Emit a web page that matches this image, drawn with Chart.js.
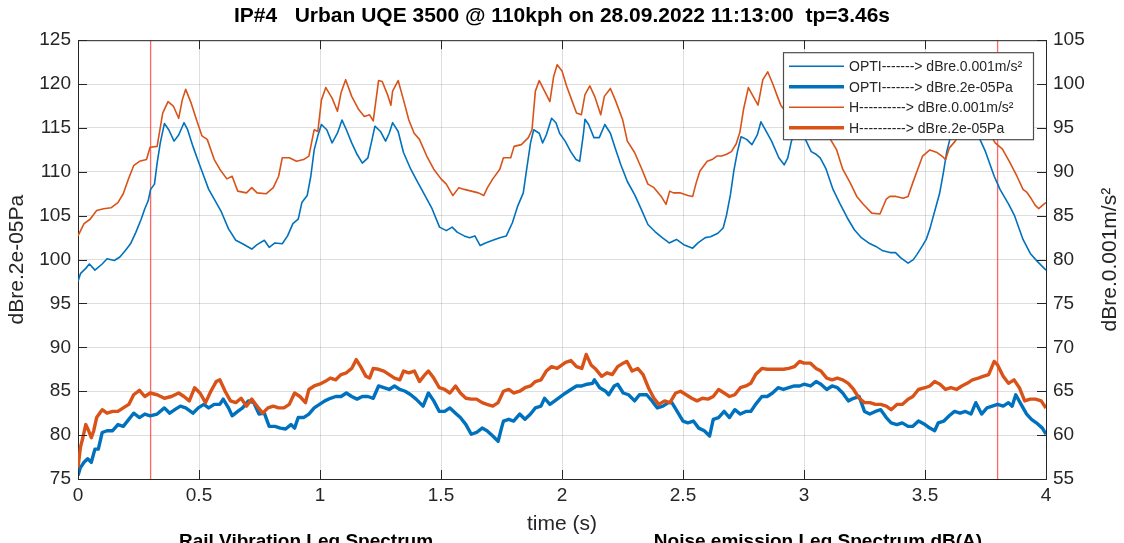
<!DOCTYPE html>
<html>
<head>
<meta charset="utf-8">
<script src="https://cdn.jsdelivr.net/npm/chart.js@4.4.1/dist/chart.umd.min.js"></script>
<style>
  html, body { margin: 0; padding: 0; background: #fff; }
  #wrap { width: 1124px; height: 543px; }
</style>
</head>
<body>
<div id="wrap"><canvas id="leqChart" width="1124" height="543"></canvas></div>
<script>
// tick labels
const timeTicks = [0, 0.5, 1, 1.5, 2, 2.5, 3, 3.5, 4];
const paTicks = [75, 80, 85, 90, 95, 100, 105, 110, 115, 120, 125];
const accTicks = [55, 60, 65, 70, 75, 80, 85, 90, 95, 100, 105];

// red cursor lines (s)
const markerTimes = [0.3, 3.8];

const chartTitle = "IP#4   Urban UQE 3500 @ 110kph on 28.09.2022 11:13:00  tp=3.46s";
const subTitles = ["Rail Vibration Leq Spectrum", "Noise emission Leq Spectrum dB(A)"];

// [time s, level]
// OPTI vibration, dBre.0.001m/s² (right axis)
const optiVib = [[0,77.5],[0.01,78.4],[0.032,79.0],[0.047,79.5],[0.07,78.8],[0.1,79.5],[0.12,80.1],[0.15,79.9],[0.173,80.3],[0.195,81.0],[0.217,81.8],[0.239,83.1],[0.261,84.6],[0.276,85.8],[0.29,86.7],[0.3,88.0],[0.316,88.6],[0.327,91.0],[0.34,93.3],[0.357,95.5],[0.375,94.8],[0.397,93.5],[0.416,94.2],[0.438,95.6],[0.453,94.8],[0.475,92.9],[0.497,91.2],[0.52,89.5],[0.54,88.0],[0.563,86.9],[0.593,85.4],[0.622,83.5],[0.652,82.2],[0.68,81.8],[0.718,81.2],[0.74,81.7],[0.77,82.2],[0.79,81.4],[0.814,81.9],[0.844,81.8],[0.866,82.7],[0.888,84.1],[0.91,84.6],[0.925,86.5],[0.947,87.3],[0.962,89.5],[0.976,92.5],[0.991,94.1],[1.006,95.4],[1.028,94.8],[1.05,93.3],[1.072,94.4],[1.091,95.9],[1.109,94.8],[1.131,93.3],[1.153,92.0],[1.175,91.0],[1.198,91.6],[1.212,93.3],[1.227,95.2],[1.25,94.6],[1.271,93.5],[1.286,94.4],[1.3,95.6],[1.323,94.6],[1.345,92.2],[1.375,90.3],[1.404,88.8],[1.434,87.3],[1.463,85.8],[1.494,83.7],[1.522,83.3],[1.546,83.7],[1.568,83.1],[1.596,82.7],[1.618,82.5],[1.64,82.7],[1.662,81.6],[1.684,81.9],[1.714,82.2],[1.743,82.5],[1.77,82.7],[1.795,84.2],[1.817,86.1],[1.84,87.6],[1.854,90.3],[1.87,93.3],[1.883,94.8],[1.906,94.4],[1.92,93.3],[1.935,94.2],[1.957,96.1],[1.975,95.6],[1.99,94.4],[2.013,93.5],[2.036,92.3],[2.058,91.4],[2.073,91.2],[2.088,94.2],[2.095,96.0],[2.11,95.4],[2.132,93.9],[2.154,93.9],[2.177,95.4],[2.2,94.4],[2.22,92.7],[2.243,90.8],[2.27,88.9],[2.3,87.4],[2.325,85.9],[2.355,84.0],[2.384,83.2],[2.414,82.5],[2.443,81.9],[2.473,82.3],[2.503,81.7],[2.54,81.3],[2.562,81.9],[2.592,82.5],[2.614,82.6],[2.644,83.0],[2.666,83.6],[2.68,85.1],[2.696,87.4],[2.71,90.1],[2.725,92.3],[2.74,94.0],[2.763,93.7],[2.785,93.1],[2.807,94.2],[2.822,95.7],[2.844,94.6],[2.866,93.5],[2.896,91.6],[2.918,90.8],[2.933,91.6],[2.948,93.5],[2.97,95.0],[2.99,94.6],[3.03,92.3],[3.05,92.0],[3.067,91.6],[3.09,90.4],[3.12,88.0],[3.148,86.4],[3.178,84.8],[3.208,83.4],[3.237,82.5],[3.267,81.9],[3.297,81.5],[3.326,81.0],[3.356,80.8],[3.378,80.8],[3.4,80.2],[3.43,79.6],[3.452,80.0],[3.467,80.6],[3.49,81.6],[3.505,82.3],[3.52,83.5],[3.54,85.5],[3.56,87.5],[3.576,89.9],[3.59,92.3],[3.61,94.5],[3.635,96.0],[3.66,96.3],[3.685,95.8],[3.71,94.8],[3.727,93.7],[3.75,92.3],[3.786,89.5],[3.81,88.0],[3.846,86.3],[3.87,85.0],[3.905,82.3],[3.935,80.7],[3.964,79.8],[4.0,78.8]];

// OPTI noise, dBre.2e-05Pa (left axis)
const optiNoise = [[0,75.4],[0.01,76.3],[0.025,76.9],[0.04,77.3],[0.055,76.9],[0.07,78.4],[0.084,78.4],[0.1,80.3],[0.12,80.5],[0.143,80.5],[0.165,81.2],[0.187,81.0],[0.21,81.8],[0.23,82.5],[0.254,82.0],[0.276,82.4],[0.298,82.2],[0.327,82.4],[0.357,83.1],[0.379,82.5],[0.4,82.9],[0.423,83.3],[0.445,83.1],[0.475,82.5],[0.497,83.1],[0.52,83.5],[0.54,83.1],[0.563,83.5],[0.586,83.5],[0.6,84.1],[0.622,83.1],[0.637,82.2],[0.66,82.7],[0.68,83.1],[0.704,83.9],[0.726,83.7],[0.748,82.4],[0.77,82.5],[0.79,81.0],[0.814,81.0],[0.836,80.8],[0.858,80.7],[0.88,81.2],[0.895,80.8],[0.91,82.0],[0.932,82.0],[0.954,82.4],[0.976,83.1],[0.998,83.5],[1.02,83.9],[1.043,84.2],[1.065,84.4],[1.087,84.4],[1.109,84.8],[1.131,84.4],[1.153,84.1],[1.175,84.4],[1.198,84.4],[1.22,84.2],[1.242,85.6],[1.264,85.4],[1.286,85.2],[1.308,85.6],[1.33,85.2],[1.352,85.0],[1.375,84.6],[1.397,84.1],[1.426,83.3],[1.448,84.8],[1.47,83.9],[1.493,82.7],[1.515,82.7],[1.537,83.1],[1.56,82.5],[1.58,82.0],[1.603,81.2],[1.625,80.1],[1.647,80.3],[1.67,80.8],[1.69,80.5],[1.714,79.9],[1.736,79.3],[1.75,80.8],[1.758,81.6],[1.78,81.8],[1.8,81.6],[1.825,82.4],[1.847,81.8],[1.87,82.4],[1.89,83.1],[1.913,83.3],[1.928,84.2],[1.95,83.5],[1.98,84.1],[2.015,84.8],[2.037,85.2],[2.06,85.6],[2.082,85.6],[2.104,85.8],[2.126,85.9],[2.134,86.3],[2.156,85.4],[2.18,85.0],[2.193,84.6],[2.216,85.6],[2.23,85.8],[2.253,84.8],[2.275,84.6],[2.3,83.9],[2.32,84.6],[2.35,84.6],[2.372,83.9],[2.394,83.1],[2.417,83.3],[2.44,83.7],[2.454,83.7],[2.476,82.7],[2.5,81.6],[2.52,81.4],[2.543,81.6],[2.565,80.8],[2.588,80.5],[2.61,79.9],[2.625,81.8],[2.647,82.0],[2.67,82.7],[2.692,82.0],[2.714,82.9],[2.737,82.4],[2.76,82.7],[2.78,82.7],[2.8,83.5],[2.826,84.4],[2.848,84.4],[2.87,84.8],[2.893,85.4],[2.915,85.2],[2.937,85.4],[2.96,85.6],[2.982,85.6],[3.0,85.8],[3.027,85.6],[3.05,86.1],[3.07,85.8],[3.094,85.2],[3.116,85.6],[3.138,85.4],[3.16,84.8],[3.183,83.9],[3.205,84.2],[3.228,84.4],[3.25,82.7],[3.272,82.4],[3.295,82.7],[3.317,82.9],[3.34,82.0],[3.36,81.4],[3.384,81.2],[3.406,81.4],[3.43,81.0],[3.45,81.0],[3.473,81.6],[3.5,81.2],[3.52,80.8],[3.54,80.5],[3.555,81.4],[3.578,81.6],[3.6,82.2],[3.622,82.7],[3.645,82.5],[3.667,82.7],[3.69,82.4],[3.71,83.7],[3.734,82.4],[3.756,83.1],[3.778,83.3],[3.8,83.5],[3.823,83.3],[3.845,83.7],[3.86,83.3],[3.875,84.6],[3.897,83.5],[3.92,82.4],[3.94,81.8],[3.96,81.4],[3.985,80.8],[4.0,80.1]];

// H vibration, dBre.0.001m/s² (right axis)
const hVib = [[0,82.7],[0.025,84.1],[0.05,84.6],[0.077,85.6],[0.106,85.8],[0.136,85.9],[0.165,86.5],[0.187,87.5],[0.21,89.3],[0.23,90.7],[0.254,91.2],[0.283,91.4],[0.298,92.8],[0.327,92.9],[0.35,96.7],[0.372,98.0],[0.394,97.5],[0.416,96.1],[0.431,98.2],[0.445,99.4],[0.468,97.8],[0.49,95.9],[0.512,94.1],[0.534,93.7],[0.563,91.4],[0.586,90.3],[0.615,89.2],[0.637,89.5],[0.66,87.8],[0.696,87.6],[0.718,88.2],[0.74,87.6],[0.777,87.5],[0.807,88.2],[0.829,89.5],[0.844,91.6],[0.873,91.6],[0.903,91.2],[0.932,91.4],[0.954,91.8],[0.976,94.8],[0.991,94.6],[1.006,98.2],[1.024,99.6],[1.05,98.4],[1.072,96.9],[1.087,99.0],[1.106,100.5],[1.131,98.6],[1.16,97.1],[1.183,96.3],[1.205,96.5],[1.22,95.8],[1.242,100.4],[1.257,100.3],[1.279,98.8],[1.293,97.6],[1.3,99.2],[1.323,100.4],[1.345,98.2],[1.367,95.9],[1.389,94.4],[1.411,93.7],[1.441,91.8],[1.47,90.3],[1.5,89.2],[1.522,88.6],[1.549,87.3],[1.574,88.2],[1.596,88.0],[1.625,87.8],[1.655,87.6],[1.677,87.3],[1.692,88.2],[1.714,89.2],[1.743,90.3],[1.758,91.6],[1.788,91.6],[1.802,92.9],[1.832,93.1],[1.861,93.9],[1.876,94.8],[1.89,99.2],[1.906,100.4],[1.928,99.2],[1.95,98.0],[1.965,100.8],[1.98,102.2],[2.0,101.5],[2.02,99.7],[2.04,98.2],[2.06,96.7],[2.08,96.5],[2.095,98.8],[2.115,99.8],[2.135,98.6],[2.16,96.5],[2.175,98.6],[2.2,99.5],[2.22,98.2],[2.25,96.0],[2.27,93.5],[2.3,92.2],[2.33,90.3],[2.355,88.6],[2.38,88.2],[2.41,87.2],[2.43,86.3],[2.445,87.8],[2.46,87.6],[2.49,87.6],[2.52,87.3],[2.54,87.2],[2.555,88.8],[2.57,90.1],[2.6,91.2],[2.62,91.4],[2.64,91.8],[2.66,91.8],[2.68,92.0],[2.7,92.3],[2.72,93.2],[2.735,94.5],[2.75,97.1],[2.77,99.6],[2.79,98.6],[2.81,97.6],[2.83,100.5],[2.85,101.4],[2.87,100.1],[2.89,98.6],[2.904,97.6],[2.926,96.8],[2.95,96.5],[2.975,96.2],[3.0,96.0],[3.03,95.5],[3.06,94.8],[3.09,94.0],[3.107,93.8],[3.135,92.5],[3.16,90.3],[3.19,88.8],[3.218,87.2],[3.245,86.3],[3.28,85.3],[3.314,85.2],[3.34,86.9],[3.355,87.2],[3.38,87.2],[3.41,87.0],[3.43,87.2],[3.45,88.8],[3.47,90.3],[3.49,91.8],[3.52,92.5],[3.55,92.2],[3.57,91.8],[3.585,91.4],[3.6,92.7],[3.625,93.5],[3.65,94.8],[3.675,96.0],[3.7,96.8],[3.725,96.5],[3.75,95.0],[3.775,94.0],[3.79,93.3],[3.82,92.6],[3.85,91.1],[3.88,89.5],[3.905,88.0],[3.92,87.7],[3.94,86.9],[3.955,86.2],[3.97,85.8],[3.99,86.3],[4.0,86.5]];

// H noise, dBre.2e-05Pa (left axis)
const hNoise = [[0,76.3],[0.01,78.6],[0.02,79.7],[0.032,81.2],[0.044,80.5],[0.055,79.7],[0.065,80.5],[0.077,82.0],[0.1,82.9],[0.12,82.5],[0.143,82.7],[0.165,82.7],[0.187,83.1],[0.21,83.5],[0.23,84.6],[0.254,85.1],[0.276,84.4],[0.298,84.8],[0.327,84.6],[0.357,84.2],[0.386,84.4],[0.416,84.8],[0.438,84.4],[0.46,83.9],[0.482,85.4],[0.504,84.8],[0.527,83.7],[0.549,85.0],[0.571,86.1],[0.586,86.3],[0.608,85.0],[0.63,83.9],[0.652,83.7],[0.674,84.2],[0.696,83.3],[0.718,84.1],[0.74,83.3],[0.763,82.5],[0.785,83.1],[0.807,83.3],[0.829,83.1],[0.851,83.1],[0.873,83.5],[0.895,84.8],[0.917,84.4],[0.94,83.7],[0.954,85.2],[0.976,85.6],[0.998,85.8],[1.02,86.1],[1.043,86.5],[1.065,86.3],[1.087,86.9],[1.109,87.1],[1.131,87.6],[1.15,88.6],[1.168,87.8],[1.19,86.7],[1.205,86.5],[1.22,87.6],[1.242,87.5],[1.264,87.3],[1.286,86.9],[1.308,86.5],[1.33,86.3],[1.345,87.3],[1.367,87.1],[1.39,87.3],[1.411,86.1],[1.434,86.9],[1.448,87.3],[1.47,86.5],[1.493,85.4],[1.515,85.2],[1.537,84.8],[1.56,85.6],[1.58,84.8],[1.603,84.2],[1.625,84.1],[1.647,84.1],[1.67,83.7],[1.69,83.5],[1.714,83.3],[1.736,83.7],[1.758,85.0],[1.78,85.2],[1.8,84.8],[1.825,85.0],[1.847,85.4],[1.87,85.6],[1.89,86.1],[1.913,86.3],[1.935,87.3],[1.957,87.8],[1.98,87.6],[2.015,88.3],[2.037,88.5],[2.06,87.8],[2.082,87.6],[2.1,89.2],[2.12,88.0],[2.14,87.5],[2.164,86.7],[2.186,87.1],[2.208,86.9],[2.23,87.8],[2.253,88.2],[2.268,88.4],[2.29,87.3],[2.313,87.6],[2.335,86.9],[2.357,85.4],[2.38,84.2],[2.4,83.5],[2.424,83.9],[2.446,83.7],[2.47,84.8],[2.49,85.0],[2.513,84.6],[2.536,84.2],[2.558,83.9],[2.58,84.2],[2.603,84.1],[2.625,84.4],[2.647,85.2],[2.67,84.8],[2.692,84.4],[2.714,84.6],[2.737,85.4],[2.76,85.6],[2.78,85.9],[2.8,86.9],[2.826,87.6],[2.848,87.5],[2.87,87.5],[2.893,87.5],[2.915,87.5],[2.937,87.6],[2.96,87.8],[2.982,88.4],[3.0,88.2],[3.027,88.2],[3.05,87.6],[3.07,87.3],[3.094,86.5],[3.116,86.3],[3.138,86.5],[3.16,86.3],[3.183,85.9],[3.205,85.2],[3.228,84.2],[3.25,83.7],[3.272,83.7],[3.295,83.5],[3.317,83.5],[3.34,83.3],[3.36,82.9],[3.384,83.5],[3.406,83.5],[3.43,84.1],[3.45,84.4],[3.473,85.2],[3.5,85.4],[3.52,85.6],[3.54,86.1],[3.562,85.8],[3.585,85.2],[3.607,85.4],[3.63,85.2],[3.652,85.6],[3.674,85.9],[3.696,86.3],[3.72,86.5],[3.74,86.7],[3.763,86.9],[3.786,88.4],[3.8,88.0],[3.823,86.7],[3.845,85.9],[3.868,86.3],[3.89,85.4],[3.912,83.9],[3.935,84.1],[3.957,84.1],[3.98,83.9],[4.0,83.1]];

const BLUE = "#0072BD";
const ORANGE = "#D95319";
const AXIS = "#262626";
const GRID = "rgba(0,0,0,0.13)";
const FONT = "'Liberation Sans', Arial, sans-serif";

Chart.defaults.font.family = FONT;
Chart.defaults.color = AXIS;

const toPoints = (pairs) => pairs.map(([x, y]) => ({ x, y }));

// legend order = dataset order, drawing order is set with "order"
const seriesSets = [
  { label: "OPTI-------> dBre.0.001m/s²", data: toPoints(optiVib), yAxisID: "yAcc", borderColor: BLUE, borderWidth: 1.6, order: 3 },
  { label: "OPTI-------> dBre.2e-05Pa", data: toPoints(optiNoise), yAxisID: "yPa", borderColor: BLUE, borderWidth: 3.4, order: 2 },
  { label: "H----------> dBre.0.001m/s²", data: toPoints(hVib), yAxisID: "yAcc", borderColor: ORANGE, borderWidth: 1.6, order: 1 },
  { label: "H----------> dBre.2e-05Pa", data: toPoints(hNoise), yAxisID: "yPa", borderColor: ORANGE, borderWidth: 3.4, order: 0 },
];

const markerSets = markerTimes.map((t) => ({
  data: [{ x: t, y: paTicks[0] }, { x: t, y: paTicks[paTicks.length - 1] }],
  yAxisID: "yPa",
  borderColor: "rgba(255,0,0,0.6)",
  borderWidth: 1.3,
  order: 5,
}));

// box, inward ticks, legend, right label and the cut-off subplot titles
const decorPlugin = {
  id: "decor",
  afterDraw(chart) {
    const { ctx, chartArea: area, scales } = chart;
    const tickLen = 9;
    ctx.save();

    ctx.strokeStyle = AXIS;
    ctx.lineWidth = 1;
    ctx.beginPath();
    ctx.moveTo(area.left, area.top + 0.5);
    ctx.lineTo(area.right, area.top + 0.5);
    timeTicks.forEach((t) => {
      const x = Math.round(scales.x.getPixelForValue(t)) + 0.5;
      ctx.moveTo(x, area.bottom);
      ctx.lineTo(x, area.bottom - tickLen);
      ctx.moveTo(x, area.top);
      ctx.lineTo(x, area.top + tickLen);
    });
    paTicks.forEach((v) => {
      const y = Math.round(scales.yPa.getPixelForValue(v)) + 0.5;
      ctx.moveTo(area.left, y);
      ctx.lineTo(area.left + tickLen, y);
    });
    accTicks.forEach((v) => {
      const y = Math.round(scales.yAcc.getPixelForValue(v)) + 0.5;
      ctx.moveTo(area.right, y);
      ctx.lineTo(area.right - tickLen, y);
    });
    ctx.stroke();

    // legend box
    const lw = 250, lh = 87;
    const lx = area.right - 13 - lw;
    const ly = area.top + 12;
    ctx.fillStyle = "#fff";
    ctx.fillRect(lx, ly, lw, lh);
    ctx.strokeStyle = "#4d4d4d";
    ctx.lineWidth = 1.2;
    ctx.strokeRect(lx + 0.5, ly + 0.5, lw, lh);
    ctx.font = "14px " + FONT;
    ctx.textAlign = "left";
    ctx.textBaseline = "middle";
    seriesSets.forEach((ds, i) => {
      const y = ly + 14 + i * 20.5;
      ctx.strokeStyle = ds.borderColor;
      ctx.lineWidth = ds.borderWidth;
      ctx.beginPath();
      ctx.moveTo(lx + 6, y);
      ctx.lineTo(lx + 61, y);
      ctx.stroke();
      ctx.fillStyle = AXIS;
      ctx.fillText(ds.label, lx + 66, y + 1);
    });

    // right axis label, reads bottom to top like the left one
    ctx.save();
    ctx.translate(1110, (area.top + area.bottom) / 2);
    ctx.rotate(-Math.PI / 2);
    ctx.textAlign = "center";
    ctx.textBaseline = "middle";
    ctx.font = "21px " + FONT;
    ctx.fillStyle = AXIS;
    ctx.fillText("dBre.0.001m/s²", 0, 0);
    ctx.restore();

    // titles of the subplots below, only their top shows
    ctx.font = "bold 19px " + FONT;
    ctx.fillStyle = "#000";
    ctx.textAlign = "center";
    ctx.textBaseline = "alphabetic";
    ctx.fillText(subTitles[0], 306, 547);
    ctx.fillText(subTitles[1], 818, 547);

    ctx.restore();
  },
};

new Chart(document.getElementById("leqChart"), {
  type: "line",
  data: { datasets: [...seriesSets, ...markerSets] },
  options: {
    responsive: false,
    animation: false,
    events: [],
    layout: { padding: 0 },
    elements: {
      point: { radius: 0 },
      line: { tension: 0, borderJoinStyle: "round", fill: false },
    },
    plugins: {
      legend: { display: false },
      tooltip: { enabled: false },
      title: {
        display: true,
        text: chartTitle,
        color: "#000",
        font: { size: 21, weight: "bold" },
        padding: { top: 4, bottom: 11 },
      },
    },
    scales: {
      x: {
        type: "linear",
        min: 0,
        max: 4,
        afterBuildTicks: (s) => { s.ticks = timeTicks.map((v) => ({ value: v })); },
        afterFit: (s) => { s.height = 64; },
        grid: { color: GRID, drawTicks: false },
        border: { color: AXIS, width: 1 },
        ticks: { padding: 5, color: AXIS, font: { size: 19 }, maxRotation: 0, autoSkip: false, callback: (v) => String(v) },
        title: { display: true, text: "time (s)", color: AXIS, font: { size: 21 }, padding: { top: 0, bottom: 6 } },
      },
      yPa: {
        position: "left",
        min: 75,
        max: 125,
        afterBuildTicks: (s) => { s.ticks = paTicks.map((v) => ({ value: v })); },
        afterFit: (s) => { s.width = 78; },
        grid: { color: GRID, drawTicks: false },
        border: { color: AXIS, width: 1 },
        ticks: { padding: 7, color: AXIS, font: { size: 19 }, callback: (v) => String(v) },
        title: { display: true, text: "dBre.2e-05Pa", color: AXIS, font: { size: 21 }, padding: { top: 5, bottom: 0 } },
      },
      yAcc: {
        position: "right",
        min: 55,
        max: 105,
        afterBuildTicks: (s) => { s.ticks = accTicks.map((v) => ({ value: v })); },
        afterFit: (s) => { s.width = 78; },
        grid: { drawOnChartArea: false, drawTicks: false },
        border: { color: AXIS, width: 1 },
        ticks: { padding: 7, color: AXIS, font: { size: 19 }, callback: (v) => String(v) },
      },
    },
  },
  plugins: [decorPlugin],
});
</script>
</body>
</html>
